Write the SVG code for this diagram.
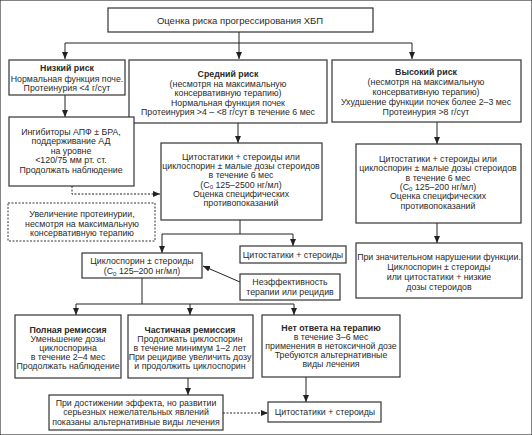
<svg xmlns="http://www.w3.org/2000/svg" width="532" height="435" viewBox="0 0 532 435">
<defs>
<marker id="ah" markerUnits="userSpaceOnUse" markerWidth="7" markerHeight="7" viewBox="0 0 7 7" refX="7" refY="3.5" orient="auto">
<path d="M0,0.5 L7,3.5 L0,6.5 Z" fill="#222"/>
</marker>
</defs>
<style>
rect{fill:#fff;stroke:#333;stroke-width:1.2}
rect.d{stroke-dasharray:2,1.5;stroke-width:1}
text{font-family:"Liberation Sans",Arial,sans-serif;font-size:8.8px;fill:#2a2a2a;text-anchor:middle}
.b{font-weight:bold}
.t{font-size:9.5px}
.c path{fill:none;stroke:#222;stroke-width:1}
.c path.d{stroke-dasharray:2,1.5}
.s{font-size:6px}
</style>
<rect width="532" height="435" fill="#fff" stroke="none"/>
<g class="c" id="connectors">
<path d="M239,32 V43 M65,43 H412"/>
<path d="M65,43 V59" marker-end="url(#ah)"/>
<path d="M239,43 V59" marker-end="url(#ah)"/>
<path d="M412,43 V59" marker-end="url(#ah)"/>
<path d="M65,95 V117" marker-end="url(#ah)"/>
<path d="M238,123 V143" marker-end="url(#ah)"/>
<path d="M437,122 V144" marker-end="url(#ah)"/>
<path d="M437,223 V243" marker-end="url(#ah)"/>
<path class="d" d="M72,186 V194 H160" marker-end="url(#ah)"/>
<path d="M240,220 V234 M162,234 H293"/>
<path d="M162,234 V253" marker-end="url(#ah)"/>
<path d="M293,234 V246" marker-end="url(#ah)"/>
<path d="M240,282 L203,266" marker-end="url(#ah)"/>
<path d="M142,278 V304 M76,304 H294"/>
<path d="M76,304 V315" marker-end="url(#ah)"/>
<path d="M190,304 V315" marker-end="url(#ah)"/>
<path d="M294,304 V315" marker-end="url(#ah)"/>
<path d="M188,378 V395" marker-end="url(#ah)"/>
<path class="d" d="M223,413 H268" marker-end="url(#ah)"/>
<path d="M306,377 V402" marker-end="url(#ah)"/>
</g>
<g id="n-title">
<rect x="108" y="8" width="265" height="24"/>
<text class="t" x="240" y="23.5">Оценка риска прогрессирования ХБП</text>
</g>
<g id="n-low">
<rect x="9" y="60" width="116" height="35"/>
<text class="b" x="67" y="71">Низкий риск</text>
<text x="67" y="81.5">Нормальная функция поче.</text>
<text x="67" y="91">Протеинурия &lt;4 г/сут</text>
</g>
<g id="n-mid">
<rect x="129" y="60" width="198" height="63"/>
<text class="b" x="228" y="77">Средний риск</text>
<text x="228" y="86.5">(несмотря на максимальную</text>
<text x="228" y="96">консервативную терапию)</text>
<text x="228" y="105.5">Нормальная функция почек</text>
<text x="228" y="115">Протеинурия &gt;4 – &lt;8 г/сут в течение 6 мес</text>
</g>
<g id="n-high">
<rect x="332" y="60" width="189" height="62"/>
<text class="b" x="426" y="75">Высокий риск</text>
<text x="426" y="85">(несмотря на максимальную</text>
<text x="426" y="95">консервативную терапию)</text>
<text x="426" y="105">Ухудшение функции почек более 2–3 мес</text>
<text x="426" y="115">Протеинурия &gt;8 г/сут</text>
</g>
<g id="n-apf">
<rect x="9" y="117" width="125" height="69"/>
<text x="71" y="134.5">Ингибиторы АПФ ± БРА,</text>
<text x="71" y="144">поддерживание АД</text>
<text x="71" y="153.5">на уровне</text>
<text x="71" y="163">&lt;120/75 мм рт. ст.</text>
<text x="71" y="172.5">Продолжать наблюдение</text>
</g>
<g id="n-midcyto">
<rect x="161" y="143" width="161" height="77"/>
<text x="241" y="160">Цитостатики + стероиды или</text>
<text x="241" y="169.2">циклоспорин ± малые дозы стероидов</text>
<text x="241" y="178.4">в течение 6 мес</text>
<text x="241" y="187.6">(C<tspan class="s" dy="1.5">0</tspan><tspan dy="-1.5"> 125–2500 нг/мл)</tspan></text>
<text x="241" y="196.8">Оценка специфических</text>
<text x="241" y="206">противопоказаний</text>
</g>
<g id="n-highcyto">
<rect x="356" y="144" width="165" height="79"/>
<text x="438" y="162">Цитостатики + стероиды или</text>
<text x="438" y="171.3">циклоспорин ± малые дозы стероидов</text>
<text x="438" y="180.6">в течение 6 мес</text>
<text x="438" y="189.9">(C<tspan class="s" dy="1.5">0</tspan><tspan dy="-1.5"> 125–200 нг/мл)</tspan></text>
<text x="438" y="199.2">Оценка специфических</text>
<text x="438" y="208.5">противопоказаний</text>
</g>
<g id="n-increase">
<rect class="d" x="8" y="203" width="147" height="38"/>
<text x="82" y="217">Увеличение протеинурии,</text>
<text x="82" y="226.5">несмотря на максимальную</text>
<text x="82" y="236">консервативную терапию</text>
</g>
<g id="n-impair">
<rect x="356" y="243" width="166" height="55"/>
<text x="439" y="260">При значительном нарушении функции.</text>
<text x="439" y="270">Циклоспорин ± стероиды</text>
<text x="439" y="280">или цитостатики + низкие</text>
<text x="439" y="290">дозы стероидов</text>
</g>
<g id="n-ciclo">
<rect x="82" y="253" width="120" height="25"/>
<text x="142" y="264">Циклоспорин ± стероиды</text>
<text x="142" y="274">(C<tspan class="s" dy="1.5">0</tspan><tspan dy="-1.5"> 125–200 нг/мл)</tspan></text>
</g>
<g id="n-cyto1">
<rect x="240" y="246" width="106" height="17"/>
<text x="293" y="258">Цитостатики + стероиды</text>
</g>
<g id="n-ineff">
<rect x="240" y="274" width="100" height="26"/>
<text x="290" y="285">Неэффективность</text>
<text x="290" y="295">терапии или рецидив</text>
</g>
<g id="n-full">
<rect x="15" y="315" width="106" height="63"/>
<text class="b" x="68" y="333">Полная ремиссия</text>
<text x="68" y="342">Уменьшение дозы</text>
<text x="68" y="351">циклоспорина</text>
<text x="68" y="360">в течение 2–4 мес</text>
<text x="68" y="369">Продолжать наблюдение</text>
</g>
<g id="n-part">
<rect x="128" y="315" width="125" height="63"/>
<text class="b" x="190" y="333">Частичная ремиссия</text>
<text x="190" y="342">Продолжать циклоспорин</text>
<text x="190" y="351">в течение минимум 1–2 лет</text>
<text x="190" y="360">При рецидиве увеличить дозу</text>
<text x="190" y="369">и продолжить циклоспорин</text>
</g>
<g id="n-none">
<rect x="262" y="315" width="138" height="62"/>
<text class="b" x="331" y="331">Нет ответа на терапию</text>
<text x="331" y="340">в течение 3–6 мес</text>
<text x="331" y="349">применения в нетоксичной дозе</text>
<text x="331" y="358">Требуются альтернативные</text>
<text x="331" y="367">виды лечения</text>
</g>
<g id="n-alt">
<rect x="49" y="395" width="174" height="35"/>
<text x="136" y="405.5">При достижении эффекта, но развитии</text>
<text x="136" y="415">серьезных нежелательных явлений</text>
<text x="136" y="424.5">показаны альтернативные виды лечения</text>
</g>
<g id="n-cyto2">
<rect x="268" y="402" width="113" height="20"/>
<text x="325" y="415">Цитостатики + стероиды</text>
</g>
</svg>
